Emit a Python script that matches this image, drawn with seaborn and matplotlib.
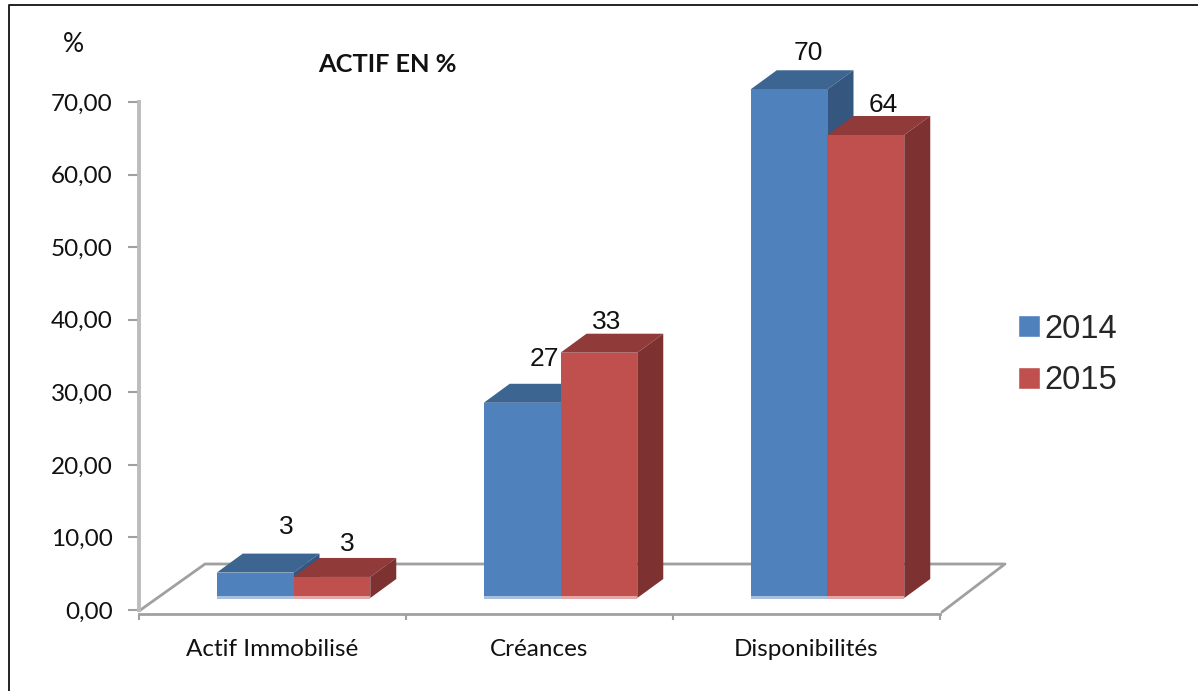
import matplotlib
matplotlib.use("Agg")
import matplotlib.pyplot as plt
import matplotlib.transforms as mtransforms
from matplotlib.lines import Line2D
import pandas as pd
import seaborn as sns

W, H = 1198, 691

categories = ["Actif Immobilisé", "Créances", "Disponibilités"]
years = ["2014", "2015"]
values_2014 = [3.5, 26.9, 70.1]
values_2015 = [2.9, 33.8, 63.8]
labels_2014 = ["3", "27", "70"]
labels_2015 = ["3", "33", "64"]
y_ticks = [0, 10, 20, 30, 40, 50, 60, 70]

df = pd.DataFrame({
    "poste": categories * 2,
    "annee": [years[0]] * 3 + [years[1]] * 3,
    "valeur": values_2014 + values_2015,
})

sns.set_theme(style="white")
plt.rcParams["font.family"] = ["Lato", "DejaVu Sans"]

colors = {"2014": "#4f81bd", "2015": "#c0504d"}
top_colors = {"2014": "#3d6592", "2015": "#913a3a"}
side_colors = {"2014": "#34567f", "2015": "#7d3130"}
strip_colors = {"2014": "#a7c0de", "2015": "#e5a7a5"}
grey = "#a0a0a0"

fig = plt.figure(figsize=(W / 100, H / 100), dpi=100)
pix = mtransforms.Affine2D().scale(1 / W, -1 / H).translate(0, 1) + fig.transFigure


def axes_from_pixels(left, right, top, bottom):
    return fig.add_axes([left / W, 1 - bottom / H, (right - left) / W, (bottom - top) / H])


# frame (only left and top are inside the picture) and the floor behind the bars
fig.add_artist(Line2D([8.5, 8.5, W], [H, 5.5, 5.5], transform=pix, color="#222222", lw=1.4))
fig.add_artist(Line2D([139, 205, 1005, 942], [611, 564, 564, 612], transform=pix, color=grey, lw=2, zorder=-1))

# axes with the scale
ax = axes_from_pixels(139, 940, 102, 610)
ax.patch.set_alpha(0)
ax.set_xlim(-0.5, 2.5)
ax.set_ylim(0, 70)
for s in ["top", "right"]:
    ax.spines[s].set_visible(False)
ax.spines["left"].set_color("#bcbcbc")
ax.spines["left"].set_linewidth(2.8)
ax.spines["bottom"].set_color(grey)
ax.spines["bottom"].set_linewidth(2)
ax.spines["bottom"].set_position(("outward", 3))
ax.set_yticks(y_ticks)
ax.set_yticklabels([f"{t},00" for t in y_ticks], fontsize=17.5, color="#111111")
ax.tick_params(axis="y", left=True, length=8, width=1.5, color=grey, pad=11)
ax.set_xticks([0, 1, 2])
ax.set_xticklabels(categories, fontsize=17.5, color="#111111")
ax.set_xticks([-0.5, 0.5, 1.5, 2.5], minor=True)
ax.tick_params(axis="x", which="major", bottom=False, pad=12)
ax.tick_params(axis="x", which="minor", bottom=True, length=4, width=1.5, color=grey)

# bars, on a copy of the scale moved to the middle of the floor
ax_bars = axes_from_pixels(160, 961, 90, 598)
ax_bars.patch.set_alpha(0)
sns.barplot(data=df, x="poste", y="valeur", hue="annee", hue_order=years, order=categories,
            palette=colors, saturation=1, width=0.575, gap=0, ax=ax_bars)
ax_bars.set_xlim(-0.5, 2.5)
ax_bars.set_ylim(0, 70)

depth_x = 26 / 267
depth_y = 19 / (508 / 70)
strip_up = 0.3
strip_down = 0.2

label_shift = {
    "2014": [(31, 46), (22, 44), (19, 36)],
    "2015": [(15, 33), (8, 31), (17, 30)],
}
label_text = {"2014": labels_2014, "2015": labels_2015}

for n, (year, container) in enumerate(zip(years, ax_bars.containers)):
    base_z = 2 + 2 * n
    for i, bar in enumerate(container):
        x0, x1 = bar.get_x(), bar.get_x() + bar.get_width()
        top = bar.get_height()
        bar.set_zorder(base_z + 1)
        bar.set_linewidth(0)
        bar.set_clip_on(False)
        ax_bars.fill([x0, x1, x1 + depth_x, x0 + depth_x],
                     [top, top, top + depth_y, top + depth_y],
                     color=top_colors[year], lw=0, zorder=base_z, clip_on=False)
        ax_bars.fill([x1, x1 + depth_x, x1 + depth_x, x1],
                     [0, depth_y, top + depth_y, top],
                     color=side_colors[year], lw=0, zorder=base_z, clip_on=False)
        ax_bars.fill([x0, x1, x1, x0],
                     [-strip_down, -strip_down, strip_up, strip_up],
                     color=strip_colors[year], lw=0, zorder=base_z + 1.5, clip_on=False)
        dx, dy = label_shift[year][i]
        ax_bars.annotate(label_text[year][i], (bar.get_x() + bar.get_width() / 2, top),
                         xytext=(dx * 0.72, dy * 0.72), textcoords="offset points",
                         ha="center", va="center", fontsize=19, annotation_clip=False,
                         family=["Liberation Sans"], color="#111111", zorder=10)

handles, names = ax_bars.get_legend_handles_labels()
ax_bars.legend(handles, names, loc="center left", bbox_to_anchor=(1018 / W, 1 - 355 / H),
               bbox_transform=fig.transFigure, frameon=False, handlelength=0.66, handleheight=0.66,
               handletextpad=0.16, labelspacing=0.62, borderpad=0, borderaxespad=0,
               prop={"family": "Liberation Sans", "size": 23.5})
ax_bars.set_xlabel("")
ax_bars.set_ylabel("")
ax_bars.set_axis_off()

fig.text(387 / W, 1 - 64 / H, "ACTIF EN %", ha="center", va="center", fontsize=18.3, fontweight="bold", color="#111111")
fig.text(73 / W, 1 - 45 / H, "%", ha="center", va="center", fontsize=19, color="#111111")

fig.savefig("out.png", dpi=100)
